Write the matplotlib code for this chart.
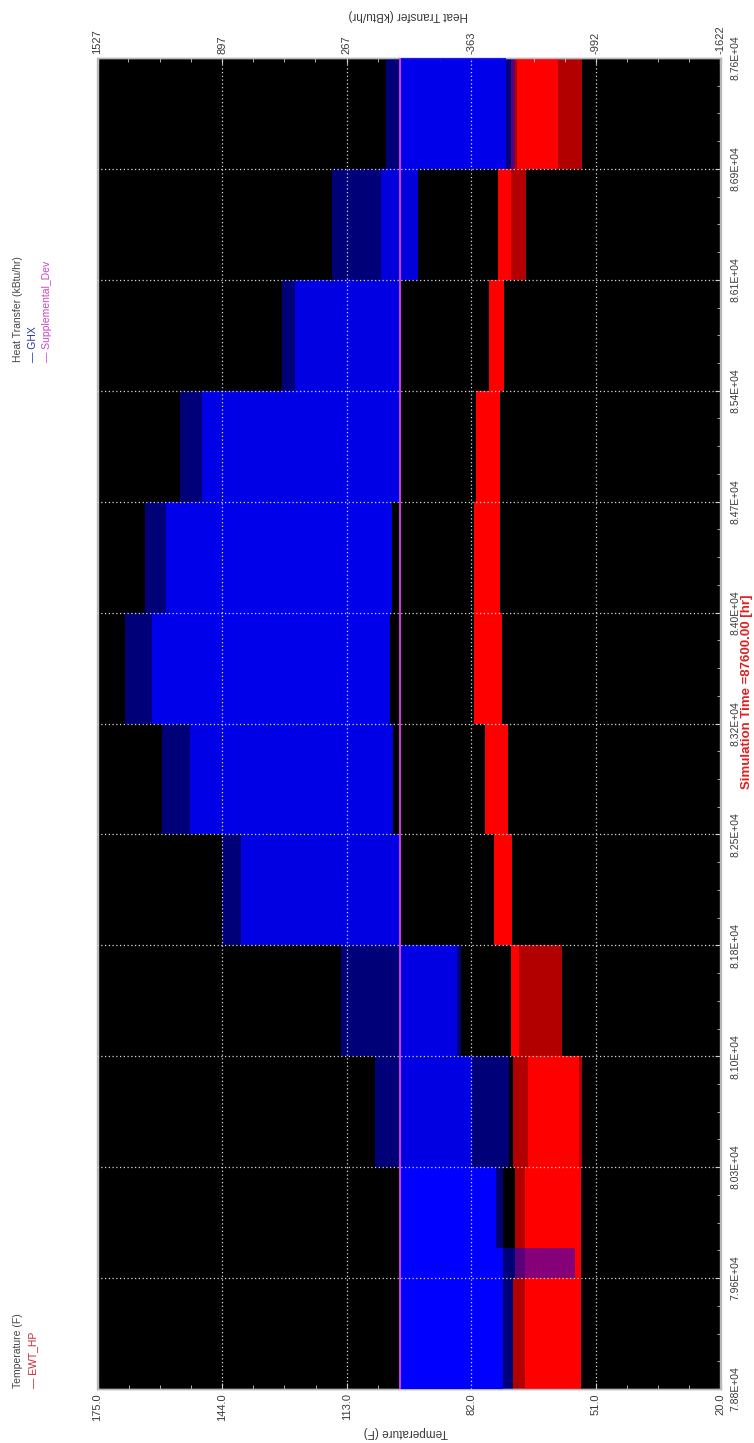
import matplotlib
matplotlib.use("Agg")
import matplotlib.pyplot as plt
from matplotlib.ticker import AutoMinorLocator

plt.rcParams['font.family'] = ['Liberation Sans', 'DejaVu Sans']

# ---------------- data ----------------
# time segment edges [hr]
seg_edges = [78840, 79570, 79767, 80300, 81030, 81760, 82490, 83220,
             83950, 84680, 85410, 86140, 86870, 87600]

# GHX heat transfer envelope per segment (kBtu/hr)
ghx_outer_max = [0, 0, 0, 124, 298, 897, 1202, 1387, 1289, 1110, 592, 342, 70]
ghx_outer_min = [-571, -888, -522, -551, -311, 0, 31, 48, 37, 4, 0, -94, -583]
ghx_core_max = [0, 0, 0, 0, 0, 800, 1060, 1250, 1180, 1000, 530, 92, 0]
ghx_core_min = [-522, -522, -486, -366, -290, 0, 31, 48, 37, 4, 0, -94, -540]

# EWT_HP temperature envelope per segment (F)
ewt_outer_max = [71.7, 71.1, 71.1, 71.7, 72.2, 76.3, 78.6, 81.3, 81.3, 80.8, 77.5, 75.4, 72.2]
ewt_outer_min = [54.7, 54.7, 54.7, 54.5, 59.4, 71.9, 72.8, 74.4, 74.9, 74.9, 73.8, 68.5, 54.5]
ewt_core_max = [68.7, 68.7, 68.7, 67.9, 72.2, 76.3, 78.6, 81.3, 81.3, 80.8, 77.5, 75.4, 70.6]
ewt_core_min = [54.7, 54.7, 54.7, 55.1, 70.1, 71.9, 72.8, 74.4, 74.9, 74.9, 73.8, 72.2, 60.4]

# Supplemental_Dev heat transfer
supp_time = [78840, 87600]
supp_value = [0, 0]

# axes ticks
temp_ticks = [175.0, 144.0, 113.0, 82.0, 51.0, 20.0]
temp_labels = ["175.0", "144.0", "113.0", "82.0", "51.0", "20.0"]
ht_ticks = [1527, 897, 267, -363, -992, -1622]
ht_labels = ["1527", "897", "267", "-363", "-992", "-1622"]
time_ticks = [78840, 79570, 80300, 81030, 81760, 82490, 83220, 83950,
              84680, 85410, 86140, 86870, 87600]
time_labels = ["7.88E+04", "7.96E+04", "8.03E+04", "8.10E+04", "8.18E+04",
               "8.25E+04", "8.32E+04", "8.40E+04", "8.47E+04", "8.54E+04",
               "8.61E+04", "8.69E+04", "8.76E+04"]

# style: apparent density of the blue core per segment
ghx_core_alpha = [1.0, 1.0, 1.0, 0.8, 0.8, 0.8, 0.82, 0.85, 0.85, 0.82, 0.8, 0.75, 0.85]

# ---------------- figure ----------------
W, H = 754, 1443
fig = plt.figure(figsize=(W / 100, H / 100), dpi=100)
fig.patch.set_facecolor('white')

x0, x1, ytop, ybot = 97.5, 720.5, 58, 1389
ax = fig.add_axes([x0 / W, 1 - ybot / H, (x1 - x0) / W, (ybot - ytop) / H])
ax.set_facecolor('black')
ax.set_xlim(175, 20)
ax.set_ylim(seg_edges[0], seg_edges[-1])

tick_col = '#c8c8c8'
lab_col = '#3a3a3a'

# temperature (bottom) axis
ax.set_xticks(temp_ticks)
ax.set_xticklabels(temp_labels, rotation=90)
ax.xaxis.set_minor_locator(AutoMinorLocator(4))
# time axis on right
ax.yaxis.tick_right()
ax.set_yticks(time_ticks)
ax.set_yticklabels(time_labels, rotation=90, va='center')
ax.yaxis.set_minor_locator(AutoMinorLocator(4))
ax.tick_params(axis='x', which='major', direction='in', length=4, color=tick_col,
               labelcolor=lab_col, labelsize=8, pad=3)
ax.tick_params(axis='y', which='major', direction='in', length=4, color=tick_col,
               labelcolor=lab_col, labelsize=7.5, pad=7)
ax.tick_params(which='minor', direction='in', length=3, color=tick_col)
ax.tick_params(axis='y', which='both', left=False, right=True)

# EWT_HP (temperature)
for i in range(len(seg_edges) - 1):
    ys = [seg_edges[i], seg_edges[i + 1]]
    ax.fill_betweenx(ys, ewt_outer_min[i], ewt_outer_max[i], color='#ff0000',
                     alpha=0.7, lw=0, zorder=2)
    ax.fill_betweenx(ys, ewt_core_min[i], ewt_core_max[i], color='#ff0000',
                     alpha=1.0, lw=0, zorder=3)

# heat transfer axis on top
ax2 = ax.twiny()
ax2.set_xlim(1527, -1622)
ax2.set_xticks(ht_ticks)
ax2.set_xticklabels(ht_labels, rotation=90)
ax2.xaxis.set_minor_locator(AutoMinorLocator(4))
ax2.tick_params(axis='x', which='major', direction='in', length=4, color=tick_col,
                labelcolor=lab_col, labelsize=8, pad=3)
ax2.tick_params(axis='x', which='minor', direction='in', length=3, color=tick_col)

for i in range(len(seg_edges) - 1):
    ys = [seg_edges[i], seg_edges[i + 1]]
    ax2.fill_betweenx(ys, ghx_outer_min[i], ghx_outer_max[i], color='#0000ff',
                      alpha=0.48, lw=0, zorder=2)
    ax2.fill_betweenx(ys, ghx_core_min[i], ghx_core_max[i], color='#0000ff',
                      alpha=ghx_core_alpha[i], lw=0, zorder=3)

ax2.plot(supp_value, supp_time, color='#e040f0', lw=1.3, zorder=5)

# dotted grid drawn on top
grid_kw = dict(color='#d8d8d8', lw=0.9, ls=(0, (1, 2)), zorder=6)
for v in ht_ticks[1:-1]:
    ax2.axvline(v, **grid_kw)
for t in time_ticks[1:-1]:
    ax2.axhline(t, **grid_kw)

for a in (ax, ax2):
    for s in a.spines.values():
        s.set_color('#b8b8b8')
        s.set_linewidth(1.0)

# axis titles (rotated chart)
fig.text(406 / W, 1 - 1432 / H, "Temperature (F)", rotation=180, ha='center',
         va='center', fontsize=8.5, color=lab_col)
fig.text(408 / W, 1 - 15 / H, "Heat Transfer (kBtu/hr)", rotation=180, ha='center',
         va='center', fontsize=8.5, color=lab_col)
fig.text(747 / W, 1 - 692 / H, "Simulation Time =87600.00 [hr]", rotation=90,
         ha='center', va='center', fontsize=9.5, fontweight='bold', color='#e02020')

# legends
leg_kw = dict(rotation=90, rotation_mode='anchor', ha='left', va='center', fontsize=7.5)
fig.text(18 / W, 1 - 1388 / H, "Temperature (F)", color='#444444', **leg_kw)
fig.text(33 / W, 1 - 1388 / H, "\u2014 EWT_HP", color='#cc2233', **leg_kw)
fig.text(18 / W, 1 - 362 / H, "Heat Transfer (kBtu/hr)", color='#444444', **leg_kw)
fig.text(33 / W, 1 - 362 / H, "\u2014 GHX", color='#2233bb', **leg_kw)
fig.text(47 / W, 1 - 362 / H, "\u2014 Supplemental_Dev", color='#cc44cc', **leg_kw)

fig.savefig("out.png", dpi=100, facecolor='white')
